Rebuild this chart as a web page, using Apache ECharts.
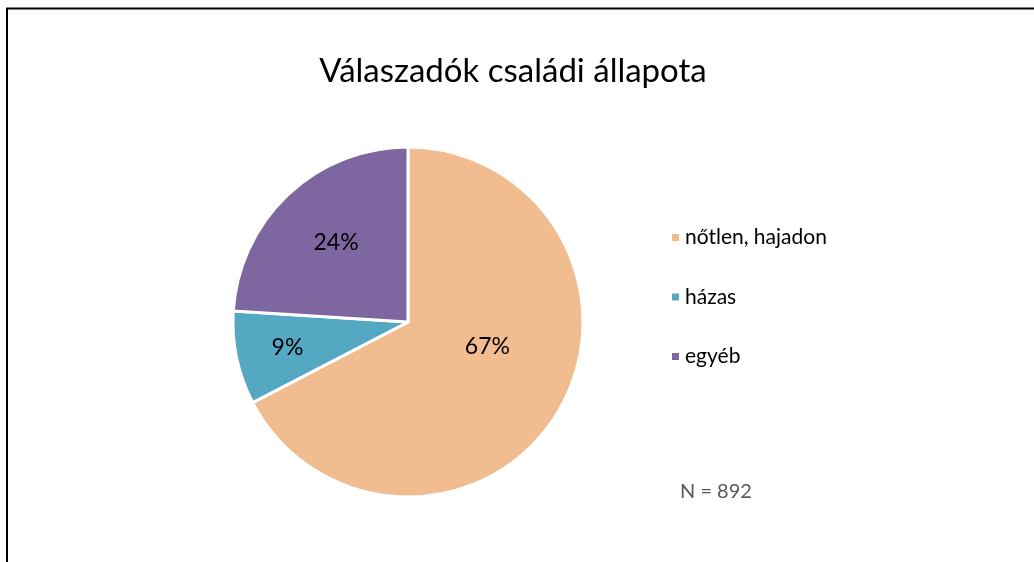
<!DOCTYPE html>
<html>
<head>
<meta charset="utf-8">
<script src="https://cdn.jsdelivr.net/npm/echarts@6/dist/echarts.min.js"></script>
<style>
  html, body { margin: 0; padding: 0; background: #fff; }
  #pie-chart { width: 1034px; height: 562px; }
</style>
</head>
<body>
<div id="pie-chart"></div>
<script>
// respondents by marital status (N = 892)
var categories = ['nőtlen, hajadon', 'házas', 'egyéb'];
var counts = [601, 77, 214];
var colors = ['#F1BC90', '#55A8C1', '#7E66A0'];
var sampleText = 'N = 892';

// nudge labels toward where the original sat
var labelOffsets = [[2, -22], [-32, 7], [-10, -13]];

function pieChart(){
	var myPie = echarts.init(document.getElementById('pie-chart'));
	var data = [];
	for (var i = 0; i < categories.length; i++) {
		data.push({
			name: categories[i],
			value: counts[i],
			itemStyle: { color: colors[i] },
			label: { offset: labelOffsets[i] }
		});
	}
	var option = {
		animation: false,
		title: {
			text: 'Válaszadók családi állapota',
			left: 508,
			textAlign: 'center',
			top: 50,
			textStyle: {
				fontFamily: 'Lato',
				fontWeight: 'normal',
				fontSize: 33,
				color: '#000'
			}
		},
		legend: {
			orient: 'vertical',
			left: 665,
			top: 222,
			itemWidth: 9,
			itemHeight: 9,
			itemGap: 38.5,
			icon: 'rect',
			data: categories,
			textStyle: {
				fontFamily: 'Lato',
				fontSize: 21,
				color: '#000',
				padding: [0, 0, 0, 0]
			}
		},
		graphic: [
			{
				type: 'text',
				left: 680,
				top: 482,
				style: {
					text: sampleText,
					fontFamily: 'Lato',
					fontSize: 20,
					fill: '#595959'
				}
			},
			{
				type: 'polyline',
				shape: { points: [[7, 562], [7, 8.5], [1034, 8.5]] },
				style: { stroke: '#000', lineWidth: 2, fill: null }
			}
		],
		series: [
			{
				type: 'pie',
				center: [408, 322],
				radius: 175,
				startAngle: 90,
				clockwise: true,
				label: {
					show: true,
					position: 'inside',
					formatter: function (p) { return Math.round(p.percent) + '%'; },
					fontFamily: 'Lato',
					fontSize: 23,
					color: '#000'
				},
				labelLine: { show: false },
				itemStyle: { borderColor: '#fff', borderWidth: 3 },
				emphasis: { disabled: true },
				data: data
			}
		]
	};
	myPie.setOption(option);
}
pieChart();
</script>
</body>
</html>
